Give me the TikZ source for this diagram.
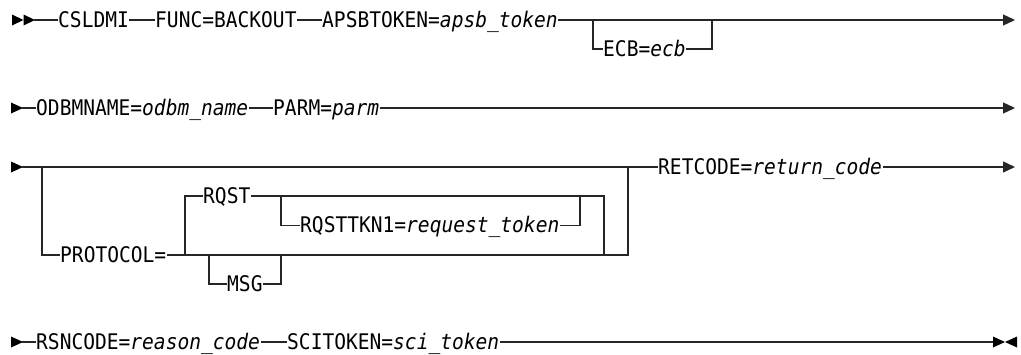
\documentclass[tikz,border=0pt]{standalone}
\usepackage{fontspec}
\newfontfamily\rrfont[FakeStretch=0.91]{DejaVu Sans Mono}
\usetikzlibrary{arrows.meta}
\begin{document}
\begin{tikzpicture}[x=1pt,y=-1pt,
  tok/.style={inner xsep=1pt,inner ysep=0pt,anchor=base west,font=\rrfont\fontsize{21.5}{24}\selectfont},
  rail/.style={line width=1.3pt,draw=black!85,line cap=rect},
  endarrow/.style={rail,line cap=butt,-{Triangle[length=12pt,width=11pt]}},
  tri/.style={fill=black}]
\useasboundingbox (0,0) rectangle (1021,354);
% ---------- row 1 ----------
\coordinate (r1) at (0,20);
\coordinate (r1s) at (35,20);
\fill[tri] (12,14.5) -- (23.5,20) -- (12,25.5) -- cycle;
\fill[tri] (23.5,14.5) -- (35,20) -- (23.5,25.5) -- cycle;
\node[tok] (csl) at (57,27) {CSLDMI};
\node[tok] (func) at (154,27) {FUNC=BACKOUT};
\node[tok] (apsb) at (321,27) {APSBTOKEN=\textit{apsb\_token}};
\coordinate (e1) at (593,20);
\coordinate (e2) at (712,20);
\coordinate (r1b) at (0,49);
\node[tok] (ecb) at (602,56) {ECB=\textit{ecb}};
\coordinate (r1end) at (1015,20);
\draw[rail] (r1s) -- (csl.west |- r1);
\draw[rail] (csl.east |- r1) -- (func.west |- r1);
\draw[rail] (func.east |- r1) -- (apsb.west |- r1);
\draw[rail] (apsb.east |- r1) -- (e1);
\draw[rail] (e1) -- (e1 |- r1b) -- (ecb.west |- r1b);
\draw[rail] (ecb.east |- r1b) -- (e2 |- r1b) -- (e2);
\draw[endarrow] (e1) -- (r1end);
% ---------- row 2 ----------
\coordinate (r2) at (0,108);
\coordinate (r2s) at (23,108);
\fill[tri] (11,102.5) -- (23,108) -- (11,113.5) -- cycle;
\node[tok] (odbm) at (35,115) {ODBMNAME=\textit{odbm\_name}};
\node[tok] (parm) at (272,115) {PARM=\textit{parm}};
\coordinate (r2end) at (1015,108);
\draw[rail] (r2s) -- (odbm.west |- r2);
\draw[rail] (odbm.east |- r2) -- (parm.west |- r2);
\draw[endarrow] (parm.east |- r2) -- (r2end);
% ---------- row 3 ----------
\coordinate (r3) at (0,167);
\coordinate (r3a) at (0,196);
\coordinate (r3b) at (0,225.5);
\coordinate (r3c) at (0,255);
\coordinate (r3d) at (0,284);
\coordinate (r3s) at (23,167);
\fill[tri] (11,161.5) -- (23,167) -- (11,172.5) -- cycle;
\coordinate (jL) at (42,167);
\coordinate (jR) at (628,167);
\node[tok] (proto) at (59,262) {PROTOCOL=};
\coordinate (jP) at (185,255);
\node[tok] (rqst) at (202,203) {RQST};
\coordinate (jT) at (281,196);
\node[tok] (rqtk) at (299,232.5) {RQSTTKN1=\textit{request\_token}};
\coordinate (jTe) at (580,196);
\coordinate (jQ) at (604,196);
\coordinate (jM) at (209,255);
\coordinate (jMe) at (281,255);
\node[tok] (msg) at (226,291) {MSG};
\node[tok] (ret) at (657,174) {RETCODE=\textit{return\_code}};
\coordinate (r3end) at (1015,167);
\draw[rail] (r3s) -- (jR);
\draw[rail] (jL) -- (jL |- r3c) -- (proto.west |- r3c);
\draw[rail] (proto.east |- r3c) -- (jP) -- (jR |- r3c) -- (jR);
\draw[rail] (jP) -- (jP |- r3a) -- (rqst.west |- r3a);
\draw[rail] (rqst.east |- r3a) -- (jQ) -- (jQ |- r3c);
\draw[rail] (jT) -- (jT |- r3b) -- (rqtk.west |- r3b);
\draw[rail] (rqtk.east |- r3b) -- (jTe |- r3b) -- (jTe);
\draw[rail] (jM) -- (jM |- r3d) -- (msg.west |- r3d);
\draw[rail] (msg.east |- r3d) -- (jMe |- r3d) -- (jMe);
\draw[rail] (jR) -- (ret.west |- r3);
\draw[endarrow] (ret.east |- r3) -- (r3end);
% ---------- row 4 ----------
\coordinate (r4) at (0,342);
\coordinate (r4s) at (23,342);
\fill[tri] (11,336.5) -- (23,342) -- (11,347.5) -- cycle;
\node[tok] (rsn) at (35,349) {RSNCODE=\textit{reason\_code}};
\node[tok] (sci) at (286,349) {SCITOKEN=\textit{sci\_token}};
\coordinate (r4end) at (993,342);
\draw[rail] (r4s) -- (rsn.west |- r4);
\draw[rail] (rsn.east |- r4) -- (sci.west |- r4);
\draw[rail,line cap=butt] (sci.east |- r4) -- (r4end);
\fill[tri] (993,336.5) -- (1005,342) -- (993,347.5) -- cycle;
\fill[tri] (1017,336.5) -- (1005,342) -- (1017,347.5) -- cycle;
\end{tikzpicture}
\end{document}
